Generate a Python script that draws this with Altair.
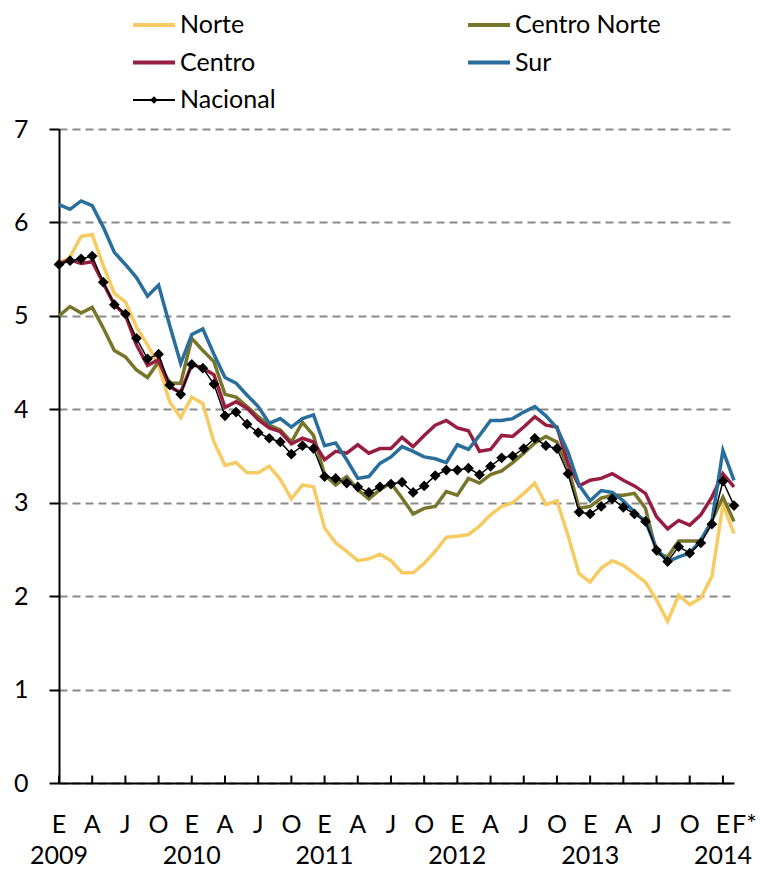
import altair as alt
import pandas as pd

series_names = ["Norte", "Centro Norte", "Centro", "Sur", "Nacional"]
series_colors = ["#F6CB62", "#77752A", "#981E41", "#2A6E9B", "#000000"]

norte = [5.56, 5.63, 5.85, 5.87, 5.54, 5.24, 5.15, 4.88, 4.69, 4.47, 4.08, 3.91,
         4.13, 4.06, 3.65, 3.40, 3.43, 3.32, 3.32, 3.39, 3.25, 3.04, 3.19, 3.17,
         2.73, 2.57, 2.48, 2.38, 2.40, 2.45, 2.38, 2.25, 2.25, 2.35, 2.48, 2.63,
         2.64, 2.66, 2.75, 2.87, 2.96, 3.00, 3.10, 3.21, 2.98, 3.02, 2.65, 2.24,
         2.15, 2.30, 2.38, 2.33, 2.24, 2.15, 1.96, 1.73, 2.01, 1.91, 1.98, 2.21,
         2.98, 2.67]
centro_norte = [5.00, 5.10, 5.03, 5.09, 4.87, 4.63, 4.56, 4.42, 4.34, 4.51, 4.28, 4.28,
                4.76, 4.63, 4.51, 4.16, 4.13, 4.03, 3.92, 3.83, 3.78, 3.65, 3.86, 3.72,
                3.30, 3.19, 3.28, 3.14, 3.04, 3.14, 3.21, 3.05, 2.88, 2.94, 2.96, 3.12,
                3.08, 3.26, 3.21, 3.30, 3.34, 3.43, 3.53, 3.64, 3.71, 3.65, 3.38, 2.94,
                2.96, 3.05, 3.08, 3.08, 3.10, 2.94, 2.46, 2.42, 2.59, 2.59, 2.59, 2.81,
                3.06, 2.80]
centro = [5.56, 5.60, 5.56, 5.58, 5.35, 5.12, 5.01, 4.69, 4.47, 4.53, 4.24, 4.18,
          4.48, 4.44, 4.37, 4.02, 4.08, 4.01, 3.89, 3.80, 3.76, 3.63, 3.69, 3.65,
          3.46, 3.55, 3.53, 3.62, 3.53, 3.58, 3.58, 3.70, 3.60, 3.72, 3.83, 3.88,
          3.80, 3.77, 3.55, 3.57, 3.72, 3.71, 3.81, 3.92, 3.83, 3.81, 3.42, 3.18,
          3.24, 3.26, 3.31, 3.24, 3.18, 3.10, 2.85, 2.72, 2.81, 2.76, 2.87, 3.06,
          3.31, 3.17]
sur = [6.19, 6.14, 6.23, 6.18, 5.95, 5.68, 5.55, 5.41, 5.21, 5.33, 4.90, 4.49,
       4.80, 4.86, 4.59, 4.34, 4.28, 4.15, 4.03, 3.85, 3.90, 3.81, 3.90, 3.94,
       3.61, 3.64, 3.46, 3.26, 3.28, 3.42, 3.49, 3.60, 3.55, 3.49, 3.47, 3.43,
       3.62, 3.57, 3.72, 3.88, 3.88, 3.90, 3.97, 4.03, 3.93, 3.80, 3.54, 3.19,
       3.02, 3.13, 3.11, 3.02, 2.90, 2.80, 2.51, 2.37, 2.42, 2.46, 2.60, 2.80,
       3.56, 3.24]
nacional = [5.55, 5.59, 5.61, 5.64, 5.36, 5.12, 5.02, 4.76, 4.54, 4.59, 4.26, 4.16,
            4.48, 4.44, 4.27, 3.93, 3.97, 3.84, 3.75, 3.69, 3.65, 3.52, 3.61, 3.58,
            3.28, 3.26, 3.21, 3.17, 3.11, 3.17, 3.20, 3.22, 3.11, 3.18, 3.29, 3.35,
            3.35, 3.37, 3.30, 3.39, 3.48, 3.50, 3.58, 3.69, 3.61, 3.58, 3.31, 2.90,
            2.88, 2.96, 3.04, 2.95, 2.88, 2.80, 2.49, 2.37, 2.53, 2.46, 2.57, 2.77,
            3.23, 2.97]

month_letters = ["E", "A", "J", "O"]
last_label = "F*"
tick_months = list(range(0, 61, 3))
year_labels = ["2009", "2010", "2011", "2012", "2013", "2014"]
year_months = [0, 12, 24, 36, 48, 60]

n = len(nacional)
values = {"Norte": norte, "Centro Norte": centro_norte, "Centro": centro,
          "Sur": sur, "Nacional": nacional}
rows = []
for s in series_names:
    for i, v in enumerate(values[s]):
        rows.append({"m": i, "serie": s, "v": v})
df = pd.DataFrame(rows)
df_reg = df[df.serie != "Nacional"]
df_nac = df[df.serie == "Nacional"]
df_ticks = pd.DataFrame({"m": tick_months})
df_months = pd.DataFrame({"m": tick_months,
                          "label": [month_letters[(m // 3) % 4] for m in tick_months]})
df_last = pd.DataFrame({"m": [n - 1], "label": [last_label]})
df_years = pd.DataFrame({"label": year_labels, "m": year_months})

W, H = 675, 654
FONT = "Lato"
FS = 25
XFS = 25

# legend layout (pixels relative to plot origin)
LEG_X, LEG_Y, LEG_COLGAP, LEG_ROWGAP, LEG_SYM, LEG_OFF = 74, -104, 335, 37.5, 42, 5
leg = pd.DataFrame({"serie": series_names})
leg["col"] = [i % 2 for i in range(len(series_names))]
leg["row"] = [i // 2 for i in range(len(series_names))]
leg["lx"] = LEG_X + leg["col"] * LEG_COLGAP
leg["lx2"] = leg["lx"] + LEG_SYM
leg["cx"] = leg["lx"] + LEG_SYM / 2
leg["tx"] = leg["lx2"] + LEG_OFF
leg["ly"] = LEG_Y + leg["row"] * LEG_ROWGAP
leg["sw"] = [2 if s == "Nacional" else 4 for s in series_names]
leg_nac = leg[leg.serie == "Nacional"]

xscale = alt.Scale(domain=[0, n - 1], nice=False, zero=False)
yscale = alt.Scale(domain=[0, 7], nice=False)
cscale = alt.Scale(domain=series_names, range=series_colors)

xaxis = alt.Axis(values=tick_months, labels=False, ticks=False, grid=False,
                 title=None, domainColor="black", domainWidth=2)
yaxis = alt.Axis(values=list(range(0, 8)), format="d", title=None, grid=True,
                 gridDash=[8, 5], gridColor="#8a8a8a", gridWidth=2,
                 tickSize=10, tickColor="black", tickWidth=2,
                 domainColor="black", domainWidth=2, labelFontSize=25,
                 labelFont=FONT, labelColor="black", labelPadding=21)

color = alt.Color("serie:N", scale=cscale, legend=None)

reg = alt.Chart(df_reg).mark_line(strokeWidth=3.5).encode(
    x=alt.X("m:Q", scale=xscale, axis=xaxis),
    y=alt.Y("v:Q", scale=yscale, axis=yaxis),
    color=color, detail="serie:N")
nac_line = alt.Chart(df_nac).mark_line(strokeWidth=1.5).encode(
    x="m:Q", y="v:Q", color=color)
nac_pts = alt.Chart(df_nac).mark_point(shape="diamond", filled=True, size=115,
                                       color="black", opacity=1).encode(
    x="m:Q", y="v:Q")
ticks = alt.Chart(df_ticks).mark_rule(color="black", strokeWidth=2).encode(
    x="m:Q", y=alt.datum(0), y2=alt.datum(0.08))
months = alt.Chart(df_months).mark_text(fontSize=XFS, font=FONT, color="black",
                                        baseline="alphabetic", align="center").encode(
    x="m:Q", y=alt.value(H + 50), text="label:N")
last = alt.Chart(df_last).mark_text(fontSize=XFS, font=FONT, color="black",
                                    baseline="alphabetic", align="left", dx=-2).encode(
    x="m:Q", y=alt.value(H + 50), text="label:N")
years = alt.Chart(df_years).mark_text(fontSize=XFS, font=FONT, color="black",
                                      baseline="alphabetic", align="center").encode(
    x="m:Q", y=alt.value(H + 81), text="label:N")

main = alt.layer(reg, nac_line, nac_pts, ticks, months, last, years)

ly = alt.Y("ly:Q", scale=None, axis=None)
leg_rule = alt.Chart(leg).mark_rule().encode(
    x=alt.X("lx:Q", scale=None, axis=None), x2="lx2:Q", y=ly, color=color,
    strokeWidth=alt.StrokeWidth("sw:Q", scale=None, legend=None))
leg_pt = alt.Chart(leg_nac).mark_point(shape="diamond", filled=True, size=60,
                                       color="black", opacity=1).encode(
    x=alt.X("cx:Q", scale=None, axis=None), y=ly)
leg_txt = alt.Chart(leg).mark_text(fontSize=FS, font=FONT, color="black",
                                   align="left", baseline="middle").encode(
    x=alt.X("tx:Q", scale=None, axis=None), y=ly, text="serie:N")
legend_layer = alt.layer(leg_rule, leg_pt, leg_txt)

chart = alt.layer(main, legend_layer).resolve_scale(
    x="independent", y="independent").properties(
    width=W, height=H,
    padding={"left": 51, "top": 121, "right": 23, "bottom": 88},
    autosize=alt.AutoSizeParams(type="none"),
).configure_view(stroke=None)

chart.save("out.html", embed_options={"renderer": "svg", "actions": False})
